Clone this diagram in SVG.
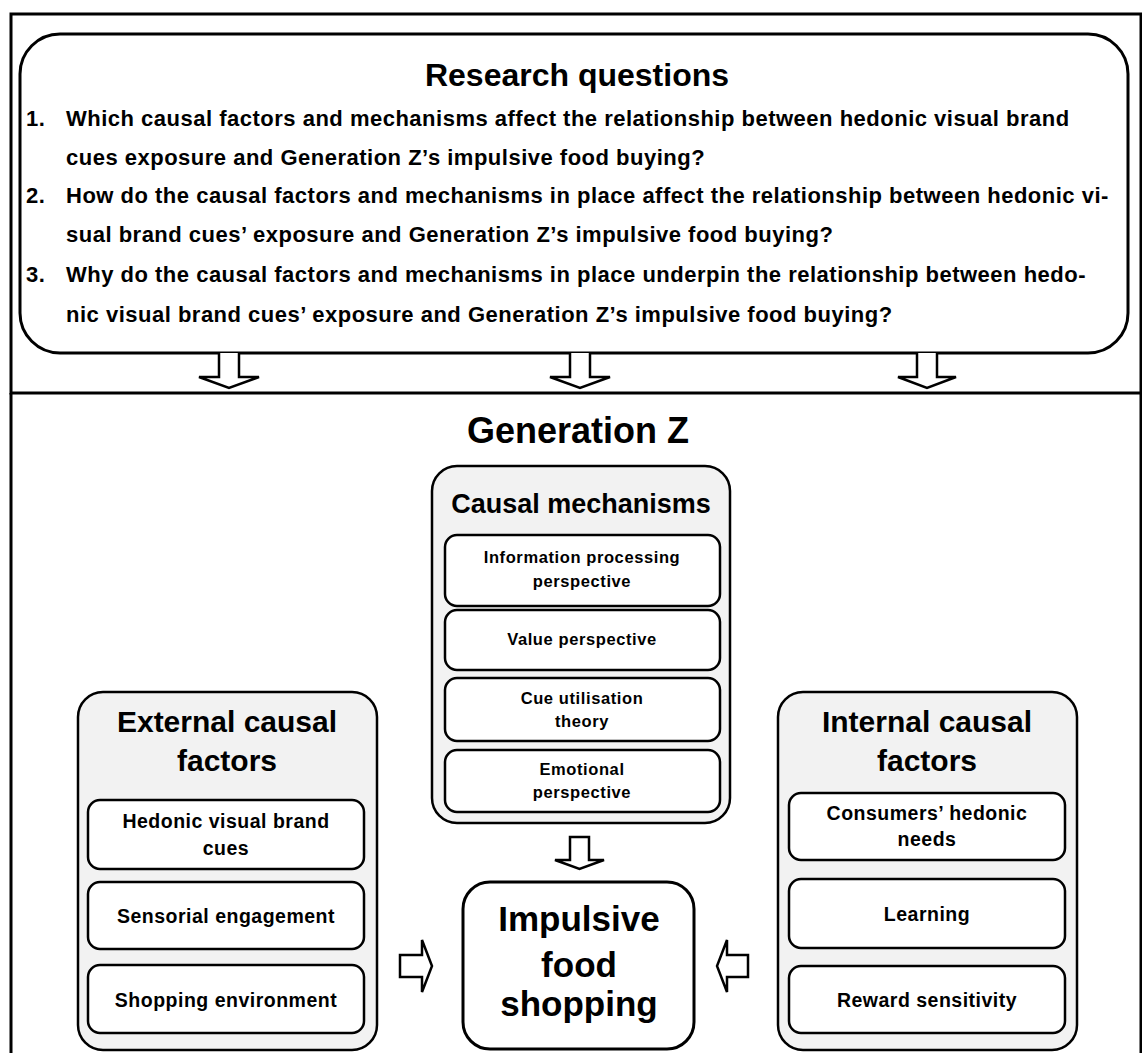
<svg xmlns="http://www.w3.org/2000/svg" width="1142" height="1053" viewBox="0 0 1142 1053">
<defs>
<style>
text{font-family:"Liberation Sans",Arial,sans-serif;font-weight:bold;fill:#000}
.frame{fill:none;stroke:#000;stroke-width:3}
.big{fill:#fff;stroke:#000;stroke-width:3}
.panel{fill:#f2f2f2;stroke:#000;stroke-width:2.5}
.item{fill:#fff;stroke:#000;stroke-width:2.5}
.arrow{fill:#fff;stroke:#000;stroke-width:2.5;stroke-linejoin:miter}
.q{font-size:22px;letter-spacing:0.5px}
.c{text-anchor:middle}
.m{font-size:16.5px;letter-spacing:0.6px}
.f{font-size:19.5px;letter-spacing:0.5px}
</style>
</defs>
<rect x="0" y="0" width="1142" height="1053" fill="#fff"/>
<g id="frames">
<rect class="frame" x="11" y="14" width="1130" height="379"/>
<path class="frame" d="M11,393 V1060 M1141,393 V1060"/>
</g>
<g id="research-questions">
<rect class="big" x="20" y="34" width="1108" height="319" rx="40" ry="40"/>
<text class="c" x="577" y="86" font-size="32">Research questions</text>
<text class="q" x="26" y="126">1.</text>
<text class="q" x="66" y="126">Which causal factors and mechanisms affect the relationship between hedonic visual brand</text>
<text class="q" x="66" y="165">cues exposure and Generation Z’s impulsive food buying?</text>
<text class="q" x="26" y="203">2.</text>
<text class="q" x="66" y="203">How do the causal factors and mechanisms in place affect the relationship between hedonic vi-</text>
<text class="q" x="66" y="242">sual brand cues’ exposure and Generation Z’s impulsive food buying?</text>
<text class="q" x="26" y="282">3.</text>
<text class="q" x="66" y="282">Why do the causal factors and mechanisms in place underpin the relationship between hedo-</text>
<text class="q" x="66" y="322">nic visual brand cues’ exposure and Generation Z’s impulsive food buying?</text>
</g>
<g id="generation-z">
<text class="c" x="578" y="443" font-size="36">Generation Z</text>
</g>
<g id="causal-mechanisms">
<rect class="panel" x="432" y="466" width="298" height="357" rx="25" ry="25"/>
<text class="c" x="581" y="513" font-size="27">Causal mechanisms</text>
<rect class="item" x="445" y="535" width="275" height="71" rx="12" ry="12"/>
<text class="c m" x="582" y="563">Information processing</text>
<text class="c m" x="582" y="587">perspective</text>
<rect class="item" x="445" y="610" width="275" height="60" rx="12" ry="12"/>
<text class="c m" x="582" y="645">Value perspective</text>
<rect class="item" x="445" y="678" width="275" height="63" rx="12" ry="12"/>
<text class="c m" x="582" y="704">Cue utilisation</text>
<text class="c m" x="582" y="727">theory</text>
<rect class="item" x="445" y="750" width="275" height="62" rx="12" ry="12"/>
<text class="c m" x="582" y="775">Emotional</text>
<text class="c m" x="582" y="798">perspective</text>
</g>
<g id="external-factors">
<rect class="panel" x="78" y="692" width="299" height="358" rx="25" ry="25"/>
<text class="c" x="227" y="732" font-size="30">External causal</text>
<text class="c" x="227" y="771" font-size="30">factors</text>
<rect class="item" x="88" y="800" width="276" height="69" rx="12" ry="12"/>
<text class="c f" x="226" y="828">Hedonic visual brand</text>
<text class="c f" x="226" y="855">cues</text>
<rect class="item" x="88" y="882" width="276" height="67" rx="12" ry="12"/>
<text class="c f" x="226" y="923">Sensorial engagement</text>
<rect class="item" x="88" y="965" width="276" height="68" rx="12" ry="12"/>
<text class="c f" x="226" y="1007">Shopping environment</text>
</g>
<g id="internal-factors">
<rect class="panel" x="778" y="692" width="299" height="358" rx="25" ry="25"/>
<text class="c" x="927" y="732" font-size="30">Internal causal</text>
<text class="c" x="927" y="771" font-size="30">factors</text>
<rect class="item" x="789" y="793" width="276" height="67" rx="12" ry="12"/>
<text class="c f" x="927" y="820">Consumers’ hedonic</text>
<text class="c f" x="927" y="846">needs</text>
<rect class="item" x="789" y="879" width="276" height="69" rx="12" ry="12"/>
<text class="c f" x="927" y="921">Learning</text>
<rect class="item" x="789" y="966" width="276" height="67" rx="12" ry="12"/>
<text class="c f" x="927" y="1007">Reward sensitivity</text>
</g>
<g id="impulsive-food-shopping">
<rect class="big" x="463" y="882" width="231" height="167" rx="27" ry="27"/>
<text class="c" x="579" y="931" font-size="35">Impulsive</text>
<text class="c" x="579" y="977" font-size="35">food</text>
<text class="c" x="579" y="1016" font-size="35">shopping</text>
</g>
<g id="connectors">
<path class="arrow" d="M219,353 V377 H199 L229,388 L259,377 H239 V353"/>
<path class="arrow" d="M570,353 V377 H550 L580,388 L610,377 H590 V353"/>
<path class="arrow" d="M917,353 V377 H898 L927,388 L956,377 H937 V353"/>
<path class="arrow" d="M570,837 V860 H555 L579.5,869 L604,860 H589 V837 Z"/>
<path class="arrow" d="M400,955 H422 V940 L432,966 L422,992 V977 H400 Z"/>
<path class="arrow" d="M748,955 H727 V940 L717,966 L727,992 V977 H748 Z"/>
</g>
</svg>
